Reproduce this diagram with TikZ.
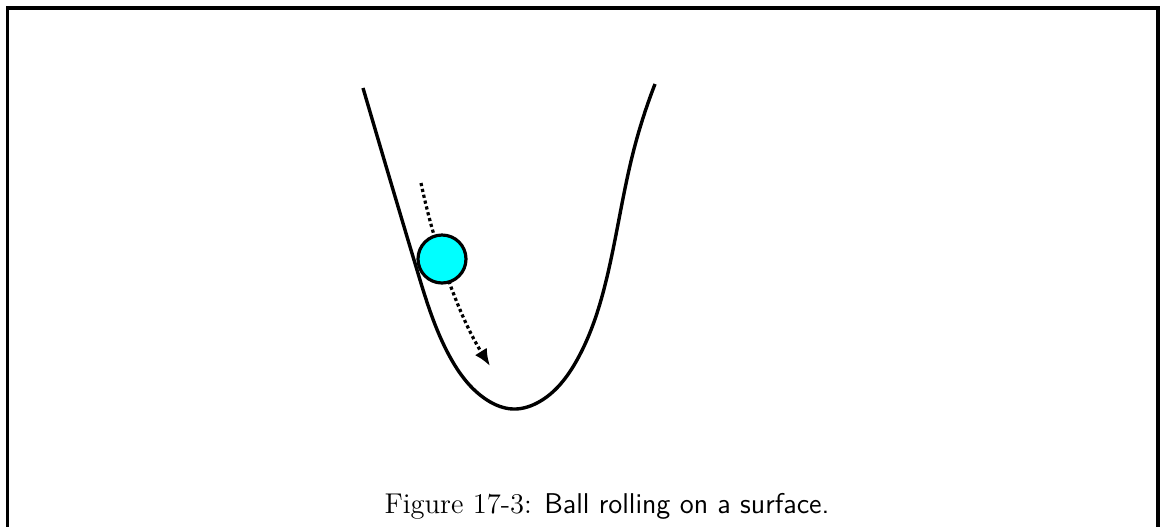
\documentclass[tikz,border=0pt]{standalone}
\usetikzlibrary{arrows.meta,hobby}
\definecolor{ballcyan}{RGB}{0,255,255}
\begin{document}
\begin{tikzpicture}[x=0.5pt,y=-0.5pt,
  frameline/.style={line width=1.6pt},
  surface/.style={line width=1.7pt, line join=round},
  ballstyle/.style={circle, draw, line width=1.6pt, fill=ballcyan, minimum size=24pt, inner sep=0pt},
  motion/.style={line width=1.6pt, dash pattern=on 1.6pt off 1.4pt, -{Latex[length=8.5pt,width=7pt]}},
  captiontext/.style={font=\fontsize{14.3}{17}\selectfont, inner sep=0pt, anchor=base}]
\useasboundingbox (0,0) rectangle (1161,526);
\draw[frameline] (7.5,540) -- (7.5,8) -- (1158,8) -- (1158,540);
\draw[surface, use Hobby shortcut] (363,88) .. (417,270) .. (450,357) .. (487,400) .. (513,409) .. (537,403) .. (577,360) .. (607,277) .. (633,153) .. (655,84);
\coordinate (start) at (421,183);
\coordinate (tip) at (490,366);
\draw[motion] (start) .. controls (434,245) and (458,315) .. (tip);
\node[ballstyle] (ball) at (442,259) {};
\node[captiontext] (caption) at (607,513) {Figure 17-3: \textsf{Ball rolling on a surface.}};
\end{tikzpicture}
\end{document}
